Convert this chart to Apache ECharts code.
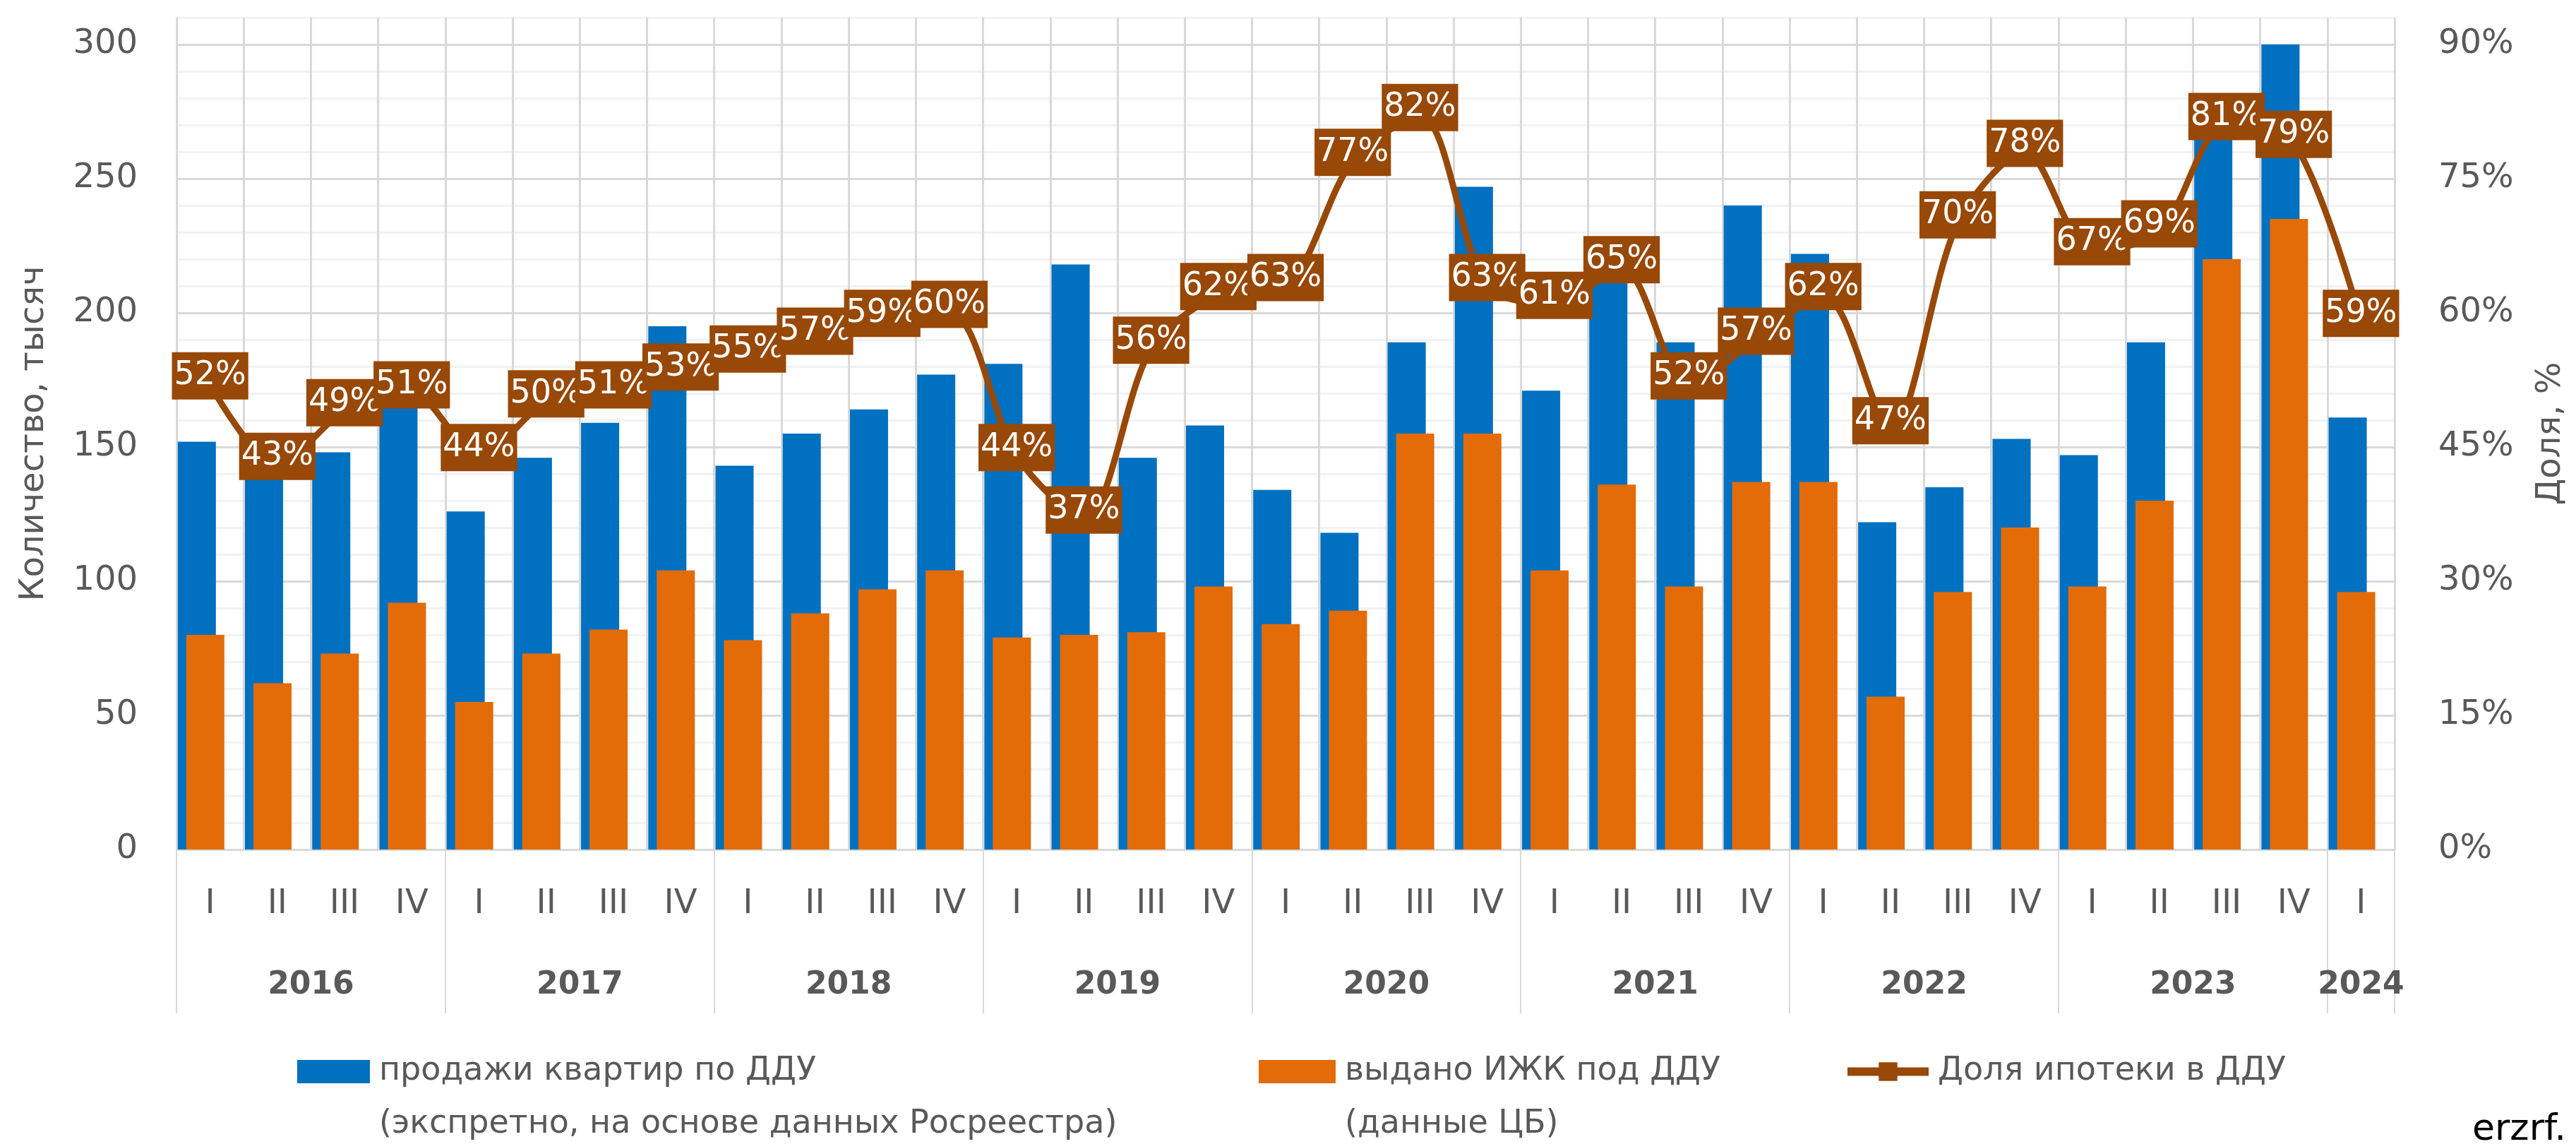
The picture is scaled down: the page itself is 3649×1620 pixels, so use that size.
<!DOCTYPE html>
<html>
<head>
<meta charset="utf-8">
<script src="https://cdn.jsdelivr.net/npm/echarts@6/dist/echarts.min.js"></script>
<style>
    html, body { margin: 0; padding: 0; background: #fff; }
    #chart { width: 3649px; height: 1620px; }
</style>
</head>
<body>
<div id="chart"></div>
<script>
// годы и кварталы
var years = ['2016', '2017', '2018', '2019', '2020', '2021', '2022', '2023', '2024'];
var quartersInYear = [4, 4, 4, 4, 4, 4, 4, 4, 1];
var quarterNames = ['I', 'II', 'III', 'IV'];

// продажи квартир по ДДУ, тыс.
var salesDdu = [152, 145, 148, 165, 126, 146, 159, 195, 143, 155, 164, 177, 181, 218, 146, 158,
    134, 118, 189, 247, 171, 212, 189, 240, 222, 122, 135, 153, 147, 189, 268, 300, 161];
// выдано ИЖК под ДДУ, тыс.
var loansDdu = [80, 62, 73, 92, 55, 73, 82, 104, 78, 88, 97, 104, 79, 80, 81, 98,
    84, 89, 155, 155, 104, 136, 98, 137, 137, 57, 96, 120, 98, 130, 220, 235, 96];
// доля ипотеки, %
var mortgageShare = [52, 43, 49, 51, 44, 50, 51, 53, 55, 57, 59, 60, 44, 37, 56, 62,
    63, 77, 82, 63, 61, 65, 52, 57, 62, 47, 70, 78, 67, 69, 81, 79, 59];

var salesName = 'продажи квартир по ДДУ\n(экспретно, на основе данных Росреестра)';
var loansName = 'выдано ИЖК под ДДУ\n(данные ЦБ)';
var shareName = 'Доля ипотеки в ДДУ';

// категории оси X
var quarterLabels = [];
var yearStart = {};
var yearCenters = {};
years.forEach(function (y, i) {
    yearStart[quarterLabels.length] = true;
    yearCenters[String(quarterLabels.length + quartersInYear[i] / 2)] = y;
    for (var q = 0; q < quartersInYear[i]; q++) {
        quarterLabels.push(quarterNames[q]);
    }
});

var font = 'DejaVu Sans';
var textColor = '#595959';
var majorGrid = '#d9d9d9';
var minorGrid = '#f2f2f2';
var brown = '#984807';
var barGap = '-77.8%';

// пустая первая строка, чтобы первая строка подписи легенды стояла напротив значка
function twoLineLegend(name) {
    return '\n' + name;
}

var legendText = { fontFamily: font, fontSize: 46, color: textColor, lineHeight: 75, padding: [0, 0, 0, 8] };

var myChart = echarts.init(document.getElementById('chart'));

var option = {
    animation: false,
    backgroundColor: '#fff',
    title: {
        text: 'erzrf.',
        left: 3502,
        top: 1574,
        padding: 0,
        textStyle: { fontFamily: font, fontSize: 52, fontWeight: 'normal', color: '#000' }
    },
    grid: { left: 250, right: 257, top: 25, bottom: 417, containLabel: false },
    legend: [
        {
            left: 421, top: 1405, padding: 0,
            itemWidth: 103, itemHeight: 33,
            data: [{ name: salesName, icon: 'rect' }],
            formatter: twoLineLegend,
            textStyle: legendText
        },
        {
            left: 1783, top: 1405, padding: 0,
            itemWidth: 109, itemHeight: 33,
            data: [{ name: loansName, icon: 'rect' }],
            formatter: twoLineLegend,
            textStyle: legendText
        },
        {
            left: 2611, top: 1480, padding: 0,
            itemWidth: 115, itemHeight: 33,
            data: [shareName],
            lineStyle: { width: 12, color: brown },
            textStyle: legendText
        }
    ],
    xAxis: [
        {
            type: 'category',
            data: quarterLabels,
            boundaryGap: true,
            axisLine: { lineStyle: { color: majorGrid, width: 3 } },
            axisTick: {
                show: true,
                interval: function (index) { return !!yearStart[index]; },
                length: 232,
                lineStyle: { color: majorGrid, width: 2 }
            },
            axisLabel: { interval: 0, margin: 54, fontFamily: font, fontSize: 48, color: textColor },
            splitLine: { show: true, interval: 0, lineStyle: { color: majorGrid, width: 3 } }
        },
        {
            type: 'value',
            position: 'bottom',
            min: 0,
            max: quarterLabels.length,
            interval: 0.5,
            axisLine: { show: false },
            axisTick: { show: false },
            splitLine: { show: false },
            axisLabel: {
                margin: 171,
                fontFamily: font, fontSize: 44, fontWeight: 'bold', color: textColor,
                formatter: function (v) { return yearCenters[String(v)] || ''; }
            }
        }
    ],
    yAxis: [
        {
            type: 'value',
            min: 0, max: 310, interval: 10,
            name: 'Количество, тысяч',
            nameLocation: 'middle',
            nameGap: 177,
            nameTextStyle: { fontFamily: font, fontSize: 48, color: textColor },
            axisLine: { show: false },
            axisTick: { show: false },
            axisLabel: {
                margin: 55, fontFamily: font, fontSize: 48, color: textColor,
                formatter: function (v) { return v % 50 === 0 ? String(v) : ''; }
            },
            splitLine: {
                show: true,
                lineStyle: { color: [majorGrid, minorGrid, minorGrid, minorGrid, minorGrid], width: 3 }
            }
        },
        {
            type: 'value',
            position: 'right',
            min: 0, max: 93, interval: 3,
            name: 'Доля, %',
            nameLocation: 'middle',
            nameGap: 198,
            nameTextStyle: { fontFamily: font, fontSize: 48, color: textColor },
            axisLine: { show: false },
            axisTick: { show: false },
            splitLine: { show: false },
            axisLabel: {
                margin: 62, fontFamily: font, fontSize: 48, color: textColor,
                formatter: function (v) { return v % 15 === 0 ? v + '%' : ''; }
            }
        }
    ],
    series: [
        {
            name: salesName,
            type: 'bar',
            data: salesDdu,
            barWidth: 54,
            barGap: barGap,
            itemStyle: { color: '#0070C0' }
        },
        {
            name: loansName,
            type: 'bar',
            data: loansDdu,
            barWidth: 54,
            barGap: barGap,
            itemStyle: { color: '#E36C09' }
        },
        {
            // пустая серия: сдвигает пару столбцов к левому краю категории, как в оригинале
            name: 'spacer',
            type: 'bar',
            data: [],
            barWidth: 67.6,
            barGap: barGap
        },
        {
            name: shareName,
            type: 'line',
            yAxisIndex: 1,
            data: mortgageShare,
            smooth: 0.3,
            symbol: 'rect',
            symbolSize: 24,
            lineStyle: { color: brown, width: 9 },
            itemStyle: { color: brown },
            z: 5,
            label: {
                show: true,
                position: 'inside',
                offset: [0, -12],
                formatter: '{c}%',
                fontFamily: font,
                fontSize: 46,
                lineHeight: 46,
                color: '#fff',
                backgroundColor: brown,
                padding: [11, 3, 10, 3]
            }
        }
    ]
};

myChart.setOption(option);
window.addEventListener('resize', function () {
    myChart.resize();
});
</script>
</body>
</html>
